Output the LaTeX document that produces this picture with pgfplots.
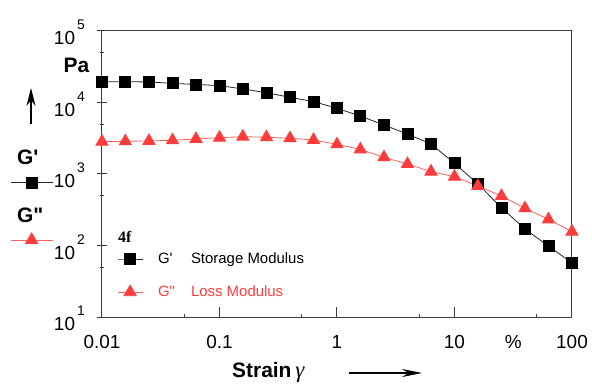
\documentclass[border=0pt]{standalone}
\usepackage{pgfplots}
\usepackage{pgfplotstable}
\pgfplotsset{compat=1.18}
\usepackage{fontspec}
\setmainfont{Liberation Sans}[Ligatures=TeXOff]
\newfontfamily\serifff{Liberation Serif}[Ligatures=TeXOff]
\usetikzlibrary{arrows.meta}
\definecolor{gred}{RGB}{255,60,60}
\definecolor{gredline}{RGB}{255,95,95}
\definecolor{axgray}{RGB}{60,60,60}
\newcommand{\ylab}[1]{\fontsize{19}{19}\selectfont 10\hspace{2bp}\raisebox{15bp}{\fontsize{14}{14}\selectfont #1}}

\pgfplotstableread{
x       Gp     Gpp
0.01    19500  2830
0.0158  19500  2870
0.0251  19400  2900
0.0398  18500  2960
0.0631  17900  3090
0.1     17200  3220
0.158   15500  3330
0.251   13700  3260
0.398   11800  3160
0.631   10300  2990
1       8300   2600
1.58    6470   2210
2.51    4840   1710
3.98    3620   1380
6.31    2630   1080
10      1410   916
15.8    725    679
25.1    338    492
39.8    170    331
63.1    98     232
100     57     156
}\datatable

\begin{document}
\begin{tikzpicture}
\useasboundingbox (-102bp,-69bp) rectangle (490bp,317bp);
\begin{axis}[
  at={(0,0)}, anchor=south west,
  scale only axis, width=470bp, height=286bp,
  xmode=log, ymode=log,
  xmin=0.01, xmax=100, ymin=10, ymax=100000,
  axis line style={axgray, line width=1bp},
  tickpos=left,
  xtick align=inside, ytick align=center,
  major tick length=10bp, minor tick length=3.5bp,
  every tick/.style={axgray, line width=1bp},
  xtick={0.01,0.1,1,10,100},
  xticklabels={0.01,0.1,1,10,100},
  minor xtick={0.05,0.5,5,50},
  ytick={10,100,1000,10000,100000},
  yticklabels={\ylab{1},\ylab{2},\ylab{3},\ylab{4},\ylab{5}},
  minor ytick={50,500,5000,50000},
  xticklabel style={font=\fontsize{19}{19}\selectfont, anchor=north, inner sep=0pt, yshift=-18bp},
  yticklabel style={anchor=base east, inner sep=0pt, xshift=-12bp, yshift=-14bp},
  extra x ticks={31.62}, extra x tick labels={\%},
  extra x tick style={major tick length=0pt},
  clip=false,
  legend style={draw=none, fill=none, at={(axis description cs:0.032,0.225)}, anchor=north west,
    inner sep=0pt, row sep=20bp, column sep=15bp, font=\fontsize{15}{15}\selectfont, nodes={inner sep=0pt}},
  legend cell align=left,
  legend image code/.code={\draw[mark repeat=2,mark phase=2,#1] plot coordinates {(0bp,0bp) (12.5bp,0bp) (25bp,0bp)};},
]
\addplot[color=black!85, line width=0.8bp, mark=square*, mark size=5.5bp, mark options={fill=black, draw=black, solid}] table[x=x,y=Gp]{\datatable};
\addlegendentry{\makebox[33bp][l]{G\symbol{39}}Storage Modulus}
\addplot[color=gredline, line width=0.8bp, mark=triangle*, mark size=7bp, mark options={fill=gred, draw=gred, solid}] table[x=x,y=Gpp]{\datatable};
\addlegendentry{\textcolor{gred}{\makebox[33bp][l]{G\symbol{34}}Loss Modulus}}
\end{axis}
\begin{axis}[
  at={(0,0)}, anchor=south west,
  scale only axis, width=470bp, height=286bp,
  hide axis, xmin=0, xmax=1, ymin=0, ymax=1,
  legend style={draw=none, fill=none, at={(axis description cs:-0.1957,0.4905)}, anchor=north west,
    inner sep=0pt, row sep=45bp, column sep=0bp, nodes={inner sep=0pt}},
  legend image code/.code={\draw[mark repeat=2,mark phase=2,#1] plot coordinates {(0bp,0bp) (21bp,0bp) (42bp,0bp)};},
]
\addlegendimage{color=black!85, line width=0.8bp, mark=square*, mark size=5.5bp, mark options={fill=black, draw=black, solid}}
\addlegendentry{\hspace*{0.1bp}}
\addlegendimage{color=gredline, line width=0.8bp, mark=triangle*, mark size=7bp, mark options={fill=gred, draw=gred, solid}}
\addlegendentry{\hspace*{0.1bp}}
\end{axis}
\node[anchor=center, inner sep=0pt] at (-25.5bp,251.5bp) {\fontsize{21}{21}\selectfont\bfseries Pa};
\draw[-{Stealth[length=18bp,width=9bp]}, line width=1.3bp] (-71bp,193bp) -- (-71bp,229bp);
\node[anchor=base west, inner sep=0pt] at (-85bp,152bp) {\fontsize{21}{21}\selectfont\bfseries G\symbol{39}};
\node[anchor=base west, inner sep=0pt] at (-85bp,94bp) {\fontsize{21}{21}\selectfont\bfseries G\symbol{34}};
\node[anchor=base west, inner sep=0pt] at (130bp,-60bp) {\fontsize{21}{21}\selectfont\bfseries Strain\hspace{4bp}{\serifff\itshape\mdseries\fontsize{23}{23}\selectfont γ}};
\draw[-{Stealth[length=20bp,width=8bp]}, line width=1.3bp] (247bp,-56bp) -- (320bp,-56bp);
\node[anchor=base west, inner sep=0pt] at (16bp,74bp) {\serifff\bfseries\fontsize{16}{16}\selectfont 4f};
\end{tikzpicture}
\end{document}
